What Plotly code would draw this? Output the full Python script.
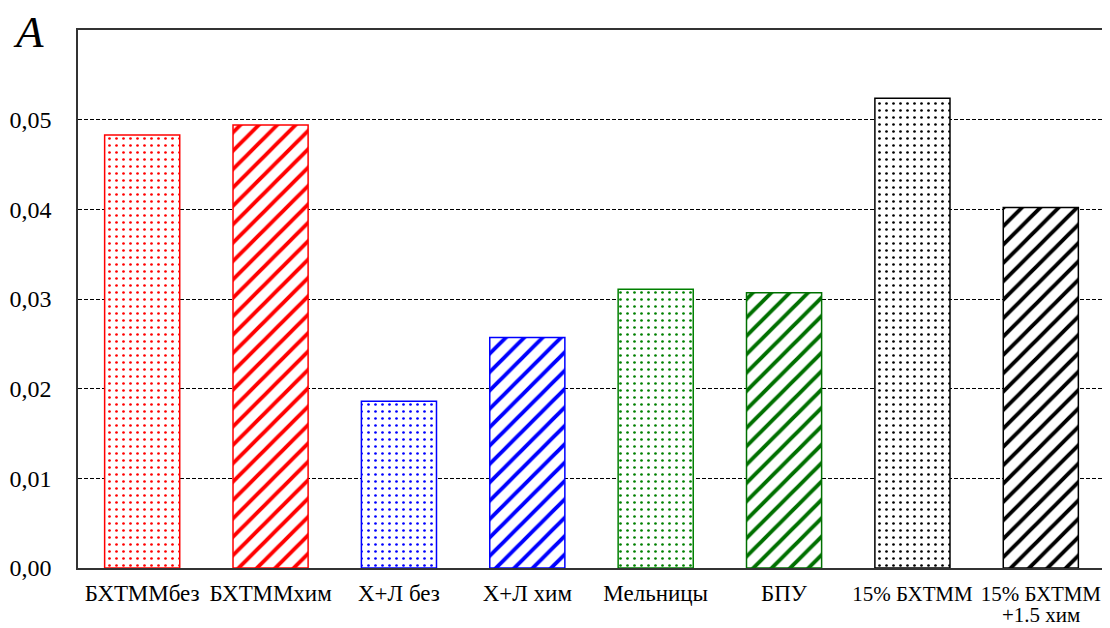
import plotly.graph_objects as go

# data
categories = ['БХТММбез', 'БХТММхим', 'Х+Л без', 'Х+Л хим', 'Мельницы', 'БПУ',
              '15% БХТММ', '15% БХТММ +1.5 хим']
tick_labels = ['БХТММбез', 'БХТММхим', 'Х+Л без', 'Х+Л хим', 'Мельницы', 'БПУ',
               '15% БХТММ', '15% БХТММ']
last_label_line2 = '+1.5 хим'
values = [0.0483, 0.0494, 0.0186, 0.0257, 0.0311, 0.0307, 0.0524, 0.0402]
colors = ['#ff0000', '#ff0000', '#0000ff', '#0000ff', '#008000', '#007000', '#000000', '#000000']
shapes = ['.', '/', '.', '/', '.', '/', '.', '/']
y_ticks = [0, 0.01, 0.02, 0.03, 0.04, 0.05]

# the two "15% БХТММ" labels are a little smaller so they fit side by side
shown_labels = tick_labels[:6] + ['<span style="font-size:21px">%s</span>' % t for t in tick_labels[6:]]

fig = go.Figure(go.Bar(
    x=categories,
    y=values,
    marker=dict(
        color='white',
        line=dict(color=colors, width=1.5),
        pattern=dict(
            shape=shapes,
            fgcolor=colors,
            bgcolor='white',
            fgopacity=1,
            size=[7 if s == '.' else 13 for s in shapes],
            solidity=[0.12 if s == '.' else 0.3 for s in shapes],
        ),
    ),
    showlegend=False,
))

# page body adds an 8px offset, so the figure is a bit smaller than the window
fig.update_layout(
    width=1102, height=620,
    margin=dict(l=70, r=5, t=22, b=60, autoexpand=False),
    plot_bgcolor='white', paper_bgcolor='white',
    bargap=0.415,
    separators=', ',
    font=dict(family='Liberation Serif', color='black'),
    xaxis=dict(
        showline=True, linecolor='#333', linewidth=1.5, mirror=True,
        showgrid=False, ticks='', tickfont=dict(size=23), automargin=False,
        tickmode='array', tickvals=categories, ticktext=shown_labels, tickangle=0,
        ticklabelstandoff=4,
    ),
    yaxis=dict(
        range=[0, 0.06], tickvals=y_ticks, tickformat='.2f',
        showline=True, linecolor='#333', linewidth=1.5, mirror=True,
        showgrid=True, gridcolor='black', griddash='4px,2px', gridwidth=1,
        zeroline=False, ticks='', tickfont=dict(size=24), automargin=False,
        ticklabelstandoff=20,
    ),
)

# second line of the last category label, tighter than a <br> would give
fig.add_annotation(text=last_label_line2, x=categories[-1], xref='x', yref='paper', y=0,
                   yanchor='top', showarrow=False, font=dict(size=21), yshift=-33)

fig.add_annotation(text='<i>A</i>', xref='paper', yref='paper', x=-0.065, y=1.0,
                   xanchor='left', yanchor='bottom', showarrow=False,
                   font=dict(size=45, family='Liberation Serif'), yshift=-29)

fig.write_html('out.html')
